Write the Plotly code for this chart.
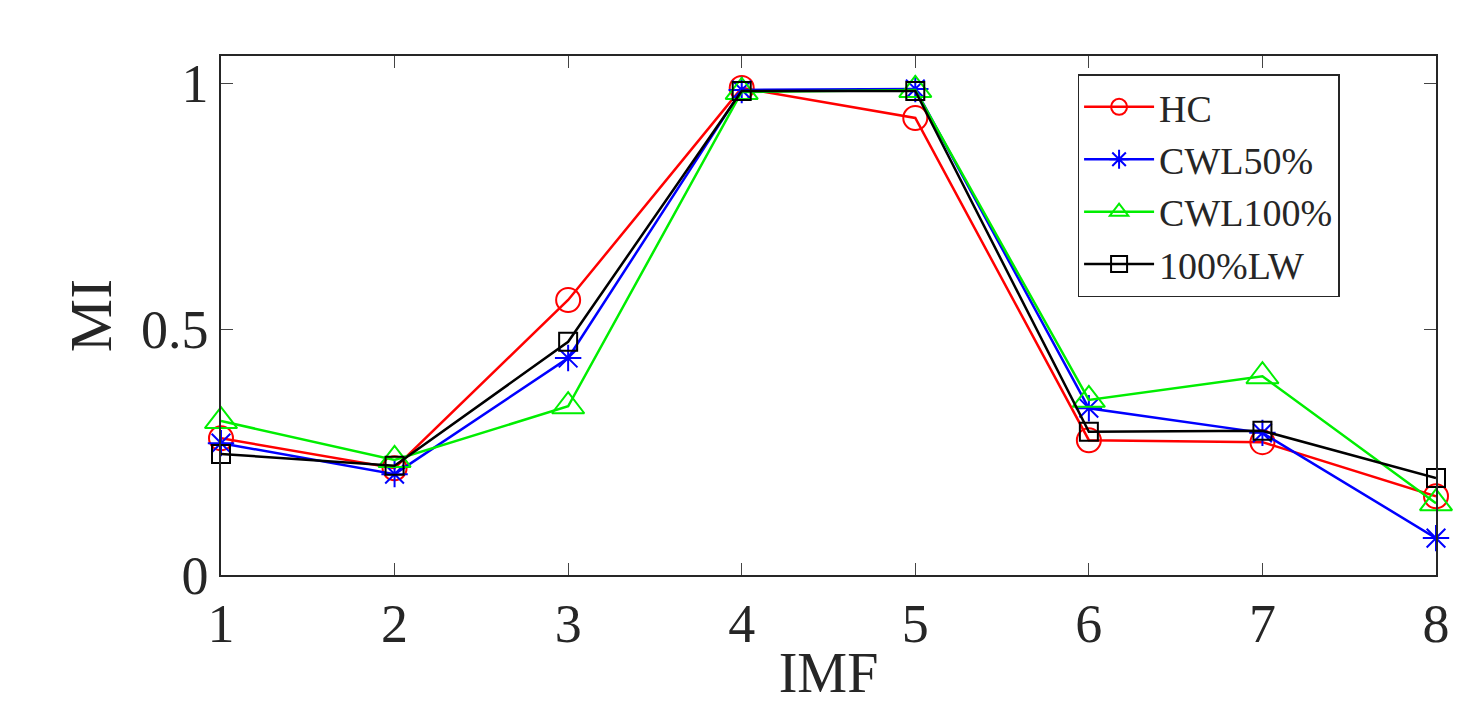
import plotly.graph_objects as go

imf = [1, 2, 3, 4, 5, 6, 7, 8]
hc = [0.278, 0.217, 0.559, 0.990, 0.929, 0.274, 0.270, 0.160]
cwl50 = [0.268, 0.205, 0.441, 0.986, 0.988, 0.339, 0.289, 0.075]
cwl100 = [0.313, 0.234, 0.343, 0.982, 0.986, 0.356, 0.404, 0.146]
lw100 = [0.246, 0.222, 0.474, 0.984, 0.984, 0.291, 0.293, 0.197]

series = [
    ("HC", hc, "red", "circle-open", 24),
    ("CWL50%", cwl50, "blue", "asterisk-open", 22),
    ("CWL100%", cwl100, "#00ee00", "triangle-up-open", 28),
    ("100%LW", lw100, "black", "square-open", 18),
]

fig = go.Figure()
for name, y, c, sym, sz in series:
    fig.add_trace(go.Scatter(x=imf, y=y, name=name, mode="lines+markers", cliponaxis=False,
                             line=dict(color=c, width=2.5),
                             marker=dict(symbol=sym, size=sz, color=c, line=dict(width=2, color=c))))

font = "Liberation Serif"
fig.update_layout(
    width=1484, height=724, plot_bgcolor="white", paper_bgcolor="white",
    margin=dict(l=213, r=56, t=48, b=157, autoexpand=False),
    font=dict(family=font, size=54, color="#262626"),
    legend=dict(x=0.705, y=0.965, xanchor="left", yanchor="top", bgcolor="white",
                bordercolor="#262626", borderwidth=1.5, font=dict(size=38, family=font),
                itemwidth=70, tracegroupgap=0),
    xaxis=dict(range=[1, 8], tickvals=imf, showgrid=False, zeroline=False, showline=True,
               automargin=False,
               linecolor="#262626", linewidth=1.5, mirror="ticks", ticks="inside", ticklen=12,
               title=dict(text="IMF", font=dict(size=56), standoff=0)),
    yaxis=dict(range=[0, 1.055], tickvals=[0, 0.5, 1], ticktext=["0", "0.5", "1"], showgrid=False,
               automargin=False,
               zeroline=False, showline=True, linecolor="#262626", linewidth=1.5, mirror="ticks",
               ticks="inside", ticklen=12, title=dict(text="MI", font=dict(size=60), standoff=10)),
)
fig.write_html("out.html")
